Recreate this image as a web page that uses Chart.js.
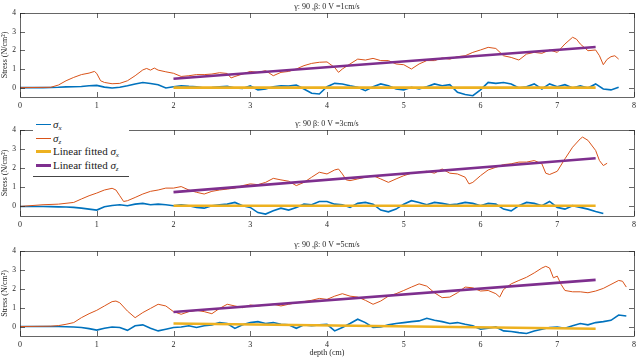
<!DOCTYPE html>
<html>
<head>
<meta charset="utf-8">
<script src="https://cdn.jsdelivr.net/npm/chart.js@4.4.1/dist/chart.umd.min.js"></script>
<style>
  body { margin: 0; background: #fff; }
  #wrap { position: relative; width: 640px; height: 359px; overflow: hidden; }
  .panel { position: absolute; left: 0; width: 640px; }
  #legend {
    position: absolute; left: 33px; top: 117px; width: 96px; height: 59px;
    background: #fff; border-bottom: 1px solid #444;
    font-family: "Liberation Serif", serif; font-size: 11px; color: #222;
  }
  #legend .row { position: absolute; left: 0; height: 13px; line-height: 13px; white-space: nowrap; }
  #legend .sw { position: absolute; left: 3px; width: 15px; }
  #legend .tx { position: absolute; left: 20px; top: 0; }
  #legend sub { font-size: 7px; vertical-align: -2px; font-style: italic; }
</style>
</head>
<body>
<div id="wrap">
  <div class="panel" style="top:0;height:114px"><canvas id="chart1"></canvas></div>
  <div class="panel" style="top:116px;height:118px"><canvas id="chart2"></canvas></div>
  <div class="panel" style="top:237px;height:122px"><canvas id="chart3"></canvas></div>
  <div id="legend">
    <div class="row" style="top:1px"><span class="sw" style="top:6px;height:1px;background:#0072BD"></span><span class="tx"><i>σ</i><sub>x</sub></span></div>
    <div class="row" style="top:15px"><span class="sw" style="top:6px;height:1px;background:#D95319"></span><span class="tx"><i>σ</i><sub>z</sub></span></div>
    <div class="row" style="top:28px"><span class="sw" style="top:5px;height:3px;background:#EDB120"></span><span class="tx">Linear fitted <i>σ</i><sub>x</sub></span></div>
    <div class="row" style="top:42px"><span class="sw" style="top:5px;height:3px;background:#7E2F8E"></span><span class="tx">Linear fitted <i>σ</i><sub>z</sub></span></div>
  </div>
</div>
<script>
// axis ticks
const xTicks = [0, 1, 2, 3, 4, 5, 6, 7, 8];
const yTicks = [0, 1, 2, 3, 4];
const titles = ['γ: 90 ,β: 0 V =1cm/s', 'γ: 90 β: 0 V =3cm/s', 'γ: 90 ,β: 0 V =5cm/s'];

// sigma_x sampled every 0.1 cm from 0
const grid = [0, 0.1, 0.2, 0.3, 0.4, 0.5, 0.6, 0.7, 0.8, 0.9, 1.0, 1.1, 1.2, 1.3, 1.4, 1.5, 1.6, 1.7, 1.8, 1.9,
  2.0, 2.1, 2.2, 2.3, 2.4, 2.5, 2.6, 2.7, 2.8, 2.9, 3.0, 3.1, 3.2, 3.3, 3.4, 3.5, 3.6, 3.7, 3.8, 3.9,
  4.0, 4.1, 4.2, 4.3, 4.4, 4.5, 4.6, 4.7, 4.8, 4.9, 5.0, 5.1, 5.2, 5.3, 5.4, 5.5, 5.6, 5.7, 5.8, 5.9,
  6.0, 6.1, 6.2, 6.3, 6.4, 6.5, 6.6, 6.7, 6.8, 6.9, 7.0, 7.1, 7.2, 7.3, 7.4, 7.5, 7.6, 7.7, 7.8, 7.9];

const sx1 = [0, 0, 0, 0, 0.01, 0.02, 0.04, 0.05, 0.06, 0.1, 0.12, 0.03, -0.02, 0.02, 0.1, 0.2, 0.28, 0.22, 0.16, -0.02,
  0.05, 0.1, 0.07, 0.05, -0.02, 0, 0.05, 0.07, -0.02, -0.04, 0.09, -0.12, -0.07, 0.05, 0.1, 0.09, 0.14, -0.07, -0.3, -0.34,
  0.05, 0.23, 0.2, 0.1, 0.02, -0.16, 0.05, 0.2, 0.1, -0.07, -0.12, 0.02, -0.07, 0.05, 0.2, 0.1, 0.16, -0.25, -0.37, -0.43,
  -0.12, 0.28, 0.23, 0.28, 0.2, -0.02, 0.05, 0.2, -0.07, 0.2, 0.05, 0.16, -0.02, 0.1, -0.02, 0.2, -0.07, -0.12, 0.02];
const sx2 = [0, 0, 0, 0, -0.01, -0.02, -0.03, -0.05, -0.09, -0.14, -0.19, -0.02, 0.05, 0.09, 0.04, 0.12, 0.16, 0.09, 0.12, 0.09,
  0.04, 0.09, 0.04, -0.05, -0.09, 0.04, 0.09, 0.12, 0.21, 0.04, -0.05, -0.32, -0.4, -0.23, -0.09, -0.19, -0.05, 0.12, 0.09, 0.26,
  0.26, 0.12, 0.09, -0.05, 0.16, 0.21, 0.12, -0.19, -0.28, -0.14, 0.12, 0.3, 0.21, 0.09, 0.21, 0.16, 0.09, 0.12, 0.21, 0.16,
  0.04, 0.16, 0.12, -0.14, -0.23, 0.04, 0.21, 0.16, 0.04, 0.26, -0.05, -0.14, 0.04, -0.05, -0.14, -0.26, -0.37];
const sx3 = [0, 0, 0, 0, 0, 0, -0.01, -0.02, -0.05, -0.11, -0.19, -0.09, -0.02, -0.05, -0.2, 0.04, 0.09, -0.09, -0.23, -0.14,
  -0.05, -0.02, 0.04, -0.05, 0.04, 0.09, 0.21, 0.16, -0.1, 0.09, 0.21, 0.26, 0.16, 0.21, 0.12, 0.09, -0.09, 0.09, 0.04, 0.09,
  0.12, -0.23, -0.05, 0.16, 0.39, 0.21, -0.05, -0.02, 0.09, 0.16, 0.21, 0.26, 0.3, 0.44, 0.33, 0.26, 0.16, 0.21, 0.12, 0.04,
  -0.14, -0.09, -0.02, -0.23, -0.26, -0.32, -0.37, -0.23, -0.14, -0.05, -0.02, -0.09, 0.04, 0.16, 0.09, 0.21, 0.26, 0.33, 0.61, 0.56];

// sigma_z
const zx1 = [0, 0.4, 0.5, 0.6, 0.7, 0.8, 0.9, 0.97, 1.0, 1.05, 1.1, 1.2, 1.3, 1.4, 1.5, 1.6, 1.65, 1.7, 1.75, 1.8,
  1.9, 2.0, 2.1, 2.2, 2.3, 2.4, 2.5, 2.6, 2.7, 2.75, 2.8, 2.9, 3.0, 3.1, 3.2, 3.3, 3.4, 3.5, 3.6, 3.7,
  3.8, 3.9, 4.0, 4.1, 4.15, 4.2, 4.3, 4.4, 4.5, 4.6, 4.7, 4.8, 4.9, 5.0, 5.1, 5.2, 5.3, 5.4, 5.5, 5.6,
  5.7, 5.8, 5.9, 6.0, 6.1, 6.2, 6.3, 6.4, 6.5, 6.6, 6.7, 6.8, 6.9, 7.0, 7.1, 7.2, 7.25, 7.3, 7.4, 7.5,
  7.55, 7.6, 7.65, 7.7, 7.75, 7.8];
const sz1 = [0, 0.02, 0.14, 0.37, 0.55, 0.7, 0.78, 0.87, 0.76, 0.37, 0.28, 0.21, 0.23, 0.37, 0.64, 0.95, 1.03, 0.94, 1.05, 0.94,
  0.85, 0.77, 0.6, 0.64, 0.7, 0.7, 0.73, 0.8, 0.76, 0.52, 0.6, 0.73, 0.87, 0.82, 0.91, 0.64, 0.82, 0.87, 1.0, 1.18,
  1.3, 1.36, 1.38, 1.08, 0.82, 1.0, 1.27, 1.53, 1.48, 1.57, 1.45, 1.45, 1.27, 1.23, 1.0, 1.27, 1.45, 1.45, 1.59, 1.53,
  1.66, 1.71, 1.89, 2.02, 2.16, 2.1, 1.71, 1.62, 1.48, 1.8, 1.89, 1.84, 2.02, 1.89, 2.34, 2.7, 2.6, 2.34, 1.98, 2.02,
  1.71, 1.23, 1.52, 1.66, 1.71, 1.53];

const zx2 = [0, 0.3, 0.5, 0.7, 0.8, 0.9, 1.0, 1.1, 1.2, 1.25, 1.3, 1.35, 1.4, 1.5, 1.6, 1.7, 1.8, 1.9, 2.0, 2.1,
  2.2, 2.3, 2.4, 2.5, 2.6, 2.7, 2.8, 2.9, 3.0, 3.1, 3.2, 3.3, 3.4, 3.5, 3.6, 3.7, 3.8, 3.9, 4.0, 4.1,
  4.15, 4.2, 4.25, 4.3, 4.4, 4.5, 4.6, 4.7, 4.8, 4.9, 5.0, 5.1, 5.2, 5.3, 5.4, 5.5, 5.6, 5.7, 5.8, 5.85,
  5.9, 6.0, 6.1, 6.2, 6.3, 6.4, 6.5, 6.6, 6.7, 6.8, 6.85, 6.9, 7.0, 7.1, 7.2, 7.3, 7.33, 7.4, 7.5, 7.55,
  7.6, 7.65];
const sz2 = [0, 0.09, 0.12, 0.21, 0.39, 0.56, 0.7, 0.86, 0.95, 0.86, 0.56, 0.26, 0.3, 0.47, 0.65, 0.79, 0.86, 0.96, 0.96, 1.04,
  0.86, 0.74, 0.65, 0.79, 0.86, 0.91, 0.96, 1.09, 1.18, 1.14, 1.26, 1.47, 1.39, 1.32, 1.09, 1.26, 1.53, 1.79, 1.7, 1.91,
  1.96, 1.7, 1.39, 1.35, 1.44, 1.53, 1.61, 1.44, 1.26, 1.44, 1.61, 1.74, 1.79, 1.84, 1.74, 1.96, 1.74, 1.7, 1.53, 1.18,
  1.26, 1.61, 1.91, 2.05, 2.19, 2.23, 2.32, 2.32, 2.4, 2.23, 1.74, 1.67, 1.84, 2.49, 3.1, 3.54, 3.63, 3.46, 2.93, 2.4,
  2.14, 2.26];

const zx3 = [0, 0.4, 0.5, 0.6, 0.7, 0.8, 0.9, 1.0, 1.1, 1.2, 1.25, 1.3, 1.4, 1.5, 1.6, 1.7, 1.8, 1.9, 2.0, 2.1,
  2.2, 2.3, 2.4, 2.5, 2.6, 2.7, 2.8, 2.9, 3.0, 3.1, 3.2, 3.3, 3.4, 3.5, 3.6, 3.7, 3.8, 3.9, 4.0, 4.1,
  4.2, 4.3, 4.4, 4.5, 4.6, 4.7, 4.8, 4.9, 5.0, 5.1, 5.2, 5.3, 5.4, 5.5, 5.6, 5.7, 5.8, 5.9, 6.0, 6.1,
  6.2, 6.25, 6.3, 6.4, 6.5, 6.6, 6.7, 6.8, 6.85, 6.9, 6.95, 7.0, 7.05, 7.1, 7.2, 7.3, 7.4, 7.5, 7.6, 7.7,
  7.8, 7.85, 7.9];
const sz3 = [0, 0.02, 0.05, 0.12, 0.21, 0.47, 0.68, 0.86, 1.09, 1.32, 1.35, 1.26, 0.82, 0.47, 0.74, 0.96, 1.18, 1.09, 0.79, 0.65,
  0.79, 0.86, 0.79, 0.68, 0.96, 1.18, 1.09, 1.0, 1.14, 1.09, 1.14, 1.18, 1.09, 1.18, 1.26, 1.32, 1.39, 1.49, 1.44, 1.61,
  1.74, 1.61, 1.56, 1.39, 1.18, 1.35, 1.61, 1.74, 1.91, 2.09, 2.26, 2.14, 1.79, 1.53, 1.56, 1.79, 2.09, 2.05, 1.88, 1.91,
  1.74, 1.56, 1.96, 2.26, 2.44, 2.61, 2.84, 3.1, 3.19, 3.1, 2.58, 2.67, 2.23, 1.91, 1.84, 1.84, 1.79, 1.88, 2.02, 2.23,
  2.44, 2.4, 2.09];

// linear fits, from depth 2 to 7.5
const fitX = [2, 7.5];
const fitSx1 = [0, 0];
const fitSz1 = [0.48, 2.18];
const fitSx2 = [0.04, 0.04];
const fitSz2 = [0.75, 2.52];
const fitSx3 = [0.16, -0.12];
const fitSz3 = [0.77, 2.47];

const fontFam = '"Liberation Serif", "Times New Roman", serif';
const textCol = '#262626';

function pts(xs, ys) {
    const out = [];
    for (let i = 0; i < ys.length; i++) out.push({x: xs[i], y: ys[i]});
    return out;
}

const boxTicks = {
    id: 'boxTicks',
    afterDraw(chart) {
        const ctx = chart.ctx;
        const a = chart.chartArea;
        const x = chart.scales.x, y = chart.scales.y;
        ctx.save();
        ctx.strokeStyle = textCol;
        ctx.lineWidth = 0.7;
        ctx.beginPath();
        x.ticks.forEach(t => {
            const px = Math.round(x.getPixelForValue(t.value)) + 0.5;
            ctx.moveTo(px, a.bottom); ctx.lineTo(px, a.bottom - 5);
            ctx.moveTo(px, a.top); ctx.lineTo(px, a.top + 5);
        });
        y.ticks.forEach(t => {
            const py = Math.round(y.getPixelForValue(t.value)) + 0.5;
            ctx.moveTo(a.left, py); ctx.lineTo(a.left + 5, py);
            ctx.moveTo(a.right, py); ctx.lineTo(a.right - 5, py);
        });
        ctx.stroke();
        ctx.strokeRect(Math.round(a.left) + 0.5, Math.round(a.top) + 0.5, Math.round(a.right - a.left), Math.round(a.bottom - a.top));
        ctx.restore();
    }
};

function makeChart(id, title, sx, zx, sz, fitSx, fitSz, xAxisH, titleTop, showXTitle) {
    return new Chart(document.getElementById(id), {
        type: 'line',
        data: {
            datasets: [
                { label: 'σx', data: pts(grid, sx), borderColor: '#0072BD', borderWidth: 1.6, order: 4 },
                { label: 'σz', data: pts(zx, sz), borderColor: '#D95319', borderWidth: 1, order: 3 },
                { label: 'Linear fitted σx', data: pts(fitX, fitSx), borderColor: '#EDB120', borderWidth: 2.6, order: 2 },
                { label: 'Linear fitted σz', data: pts(fitX, fitSz), borderColor: '#7E2F8E', borderWidth: 2.6, order: 1 }
            ]
        },
        options: {
            responsive: true,
            maintainAspectRatio: false,
            animation: false,
            events: [],
            elements: { point: { radius: 0 }, line: { tension: 0 } },
            layout: { padding: { left: 0, right: 4, top: 0, bottom: 0 } },
            plugins: {
                legend: { display: false },
                tooltip: { enabled: false },
                title: {
                    display: true,
                    text: title,
                    fullSize: false,
                    color: textCol,
                    font: { family: fontFam, size: 8, weight: 'normal' },
                    padding: { top: titleTop, bottom: 1.4 }
                }
            },
            scales: {
                x: {
                    type: 'linear',
                    min: 0,
                    max: 8,
                    afterBuildTicks: s => { s.ticks = xTicks.map(v => ({ value: v })); },
                    afterFit: s => { s.height = xAxisH; },
                    grid: { display: false, drawTicks: false },
                    border: { display: false },
                    ticks: { color: textCol, padding: 4, maxRotation: 0, font: { family: fontFam, size: 8 } },
                    title: {
                        display: showXTitle,
                        text: 'depth (cm)',
                        color: textCol,
                        padding: { top: 0, bottom: 1 },
                        font: { family: fontFam, size: 8 }
                    }
                },
                y: {
                    min: -0.5,
                    max: 4,
                    afterBuildTicks: s => { s.ticks = yTicks.map(v => ({ value: v })); },
                    afterFit: s => { s.width = 20; },
                    grid: { display: false, drawTicks: false },
                    border: { display: false },
                    ticks: { color: textCol, padding: 4, font: { family: fontFam, size: 7.5 } },
                    title: {
                        display: true,
                        text: 'Stress (N/cm²)',
                        color: textCol,
                        padding: { top: 0, bottom: 0 },
                        font: { family: fontFam, size: 8 }
                    }
                }
            }
        },
        plugins: [boxTicks]
    });
}

const chart1 = makeChart('chart1', titles[0], sx1, zx1, sz1, fitSx1, fitSz1, 17, 2, false);
const chart2 = makeChart('chart2', titles[1], sx2, zx2, sz2, fitSx2, fitSz2, 18, 3, false);
const chart3 = makeChart('chart3', titles[2], sx3, zx3, sz3, fitSx3, fitSz3, 23, 3, true);
</script>
</body>
</html>
